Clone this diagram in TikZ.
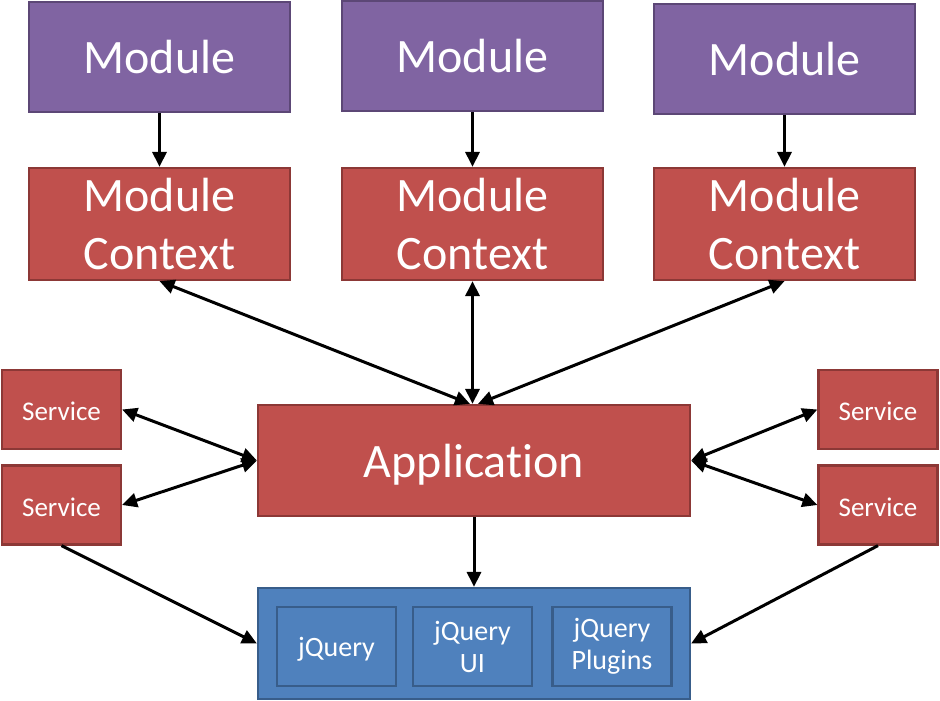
\documentclass[tikz,border=0pt]{standalone}
\usepackage{fontspec}
\setmainfont{Carlito}[Ligatures=NoCommon]
\usetikzlibrary{arrows.meta}
\definecolor{modfill}{HTML}{8064A2}
\definecolor{moddraw}{HTML}{5C4776}
\definecolor{redfill}{HTML}{C0504D}
\definecolor{reddraw}{HTML}{8C3836}
\definecolor{bluefill}{HTML}{4F81BD}
\definecolor{bluedraw}{HTML}{385D8A}
\newcommand{\lowertext}[2]{\raisebox{-#1}[\height][\depth]{#2}}
\tikzset{
  box/.style={rectangle, line width=2.2pt, text=white, align=center, inner sep=0pt},
  modbox/.style={box, fill=modfill, draw=moddraw, minimum width=261pt, minimum height=110pt,
    font=\fontsize{48}{58}\selectfont},
  ctxbox/.style={box, fill=redfill, draw=reddraw, minimum width=261pt, minimum height=112pt,
    font=\fontsize{48}{58}\selectfont},
  appbox/.style={box, fill=redfill, draw=reddraw, minimum width=432pt, minimum height=111pt,
    font=\fontsize{48}{58}\selectfont},
  svcbox/.style={box, fill=redfill, draw=reddraw, minimum width=119pt, minimum height=79pt,
    font=\fontsize{27}{32}\selectfont},
  libouter/.style={box, fill=bluefill, draw=bluedraw, minimum width=432pt, minimum height=111pt},
  libbox/.style={box, fill=bluefill, draw=bluedraw, minimum width=119pt, minimum height=79pt,
    font=\fontsize{28}{32}\selectfont},
  arr/.style={line width=3pt, -{Triangle[length=15pt,width=14pt]}},
  darr/.style={line width=3pt, {Triangle[length=15pt,width=14pt]}-{Triangle[length=15pt,width=14pt]}},
}
\begin{document}
\begin{tikzpicture}[x=1pt,y=-1pt]
\useasboundingbox (0,0) rectangle (940,701);
% modules
\node[modbox] (m1) at (159.5,57) {Module};
\node[modbox] (m2) at (472.5,56) {Module};
\node[modbox] (m3) at (784.5,59) {Module};
% contexts
\node[ctxbox] (c1) at (159.5,224) {Module\\Context};
\node[ctxbox] (c2) at (472.5,224) {Module\\Context};
\node[ctxbox] (c3) at (784.5,224) {Module\\Context};
% application
\node[appbox] (app) at (474,460.5) {\lowertext{4pt}{Application}};
% services
\node[svcbox] (sl1) at (61.5,409.5) {\lowertext{2pt}{Service}};
\node[svcbox] (sl2) at (61.5,505) {\lowertext{2pt}{Service}};
\node[svcbox] (sr1) at (878,409.5) {\lowertext{2pt}{Service}};
\node[svcbox] (sr2) at (878,505) {\lowertext{2pt}{Service}};
% libraries
\node[libouter] (lib) at (474,643.5) {};
\node[libbox] (jq) at (336.5,646.5) {\lowertext{3pt}{jQuery}};
\node[libbox] (jqui) at (472.5,646.5) {jQuery\\UI};
\node[libbox] (jqp) at (612,646.5) {jQuery\\Plugins};
% connectors
\draw[arr] (m1) -- (c1);
\draw[arr] (m2) -- (c2);
\draw[arr] (m3) -- (c3);
\draw[darr] (c1.south) -- ([xshift=-4pt]app.north);
\draw[darr] (c2.south) -- (c2.south |- app.north);
\draw[darr] (c3.south) -- ([xshift=4pt]app.north);
\draw[darr] (sl1.east) -- (app.west);
\draw[darr] (sl2.east) -- (app.west);
\draw[darr] (app.east) -- (sr1.west);
\draw[darr] (app.east) -- (sr2.west);
\draw[arr] (app) -- (lib);
\draw[arr] (sl2.south) -- (lib.west);
\draw[arr] (sr2.south) -- (lib.east);
\end{tikzpicture}
\end{document}
